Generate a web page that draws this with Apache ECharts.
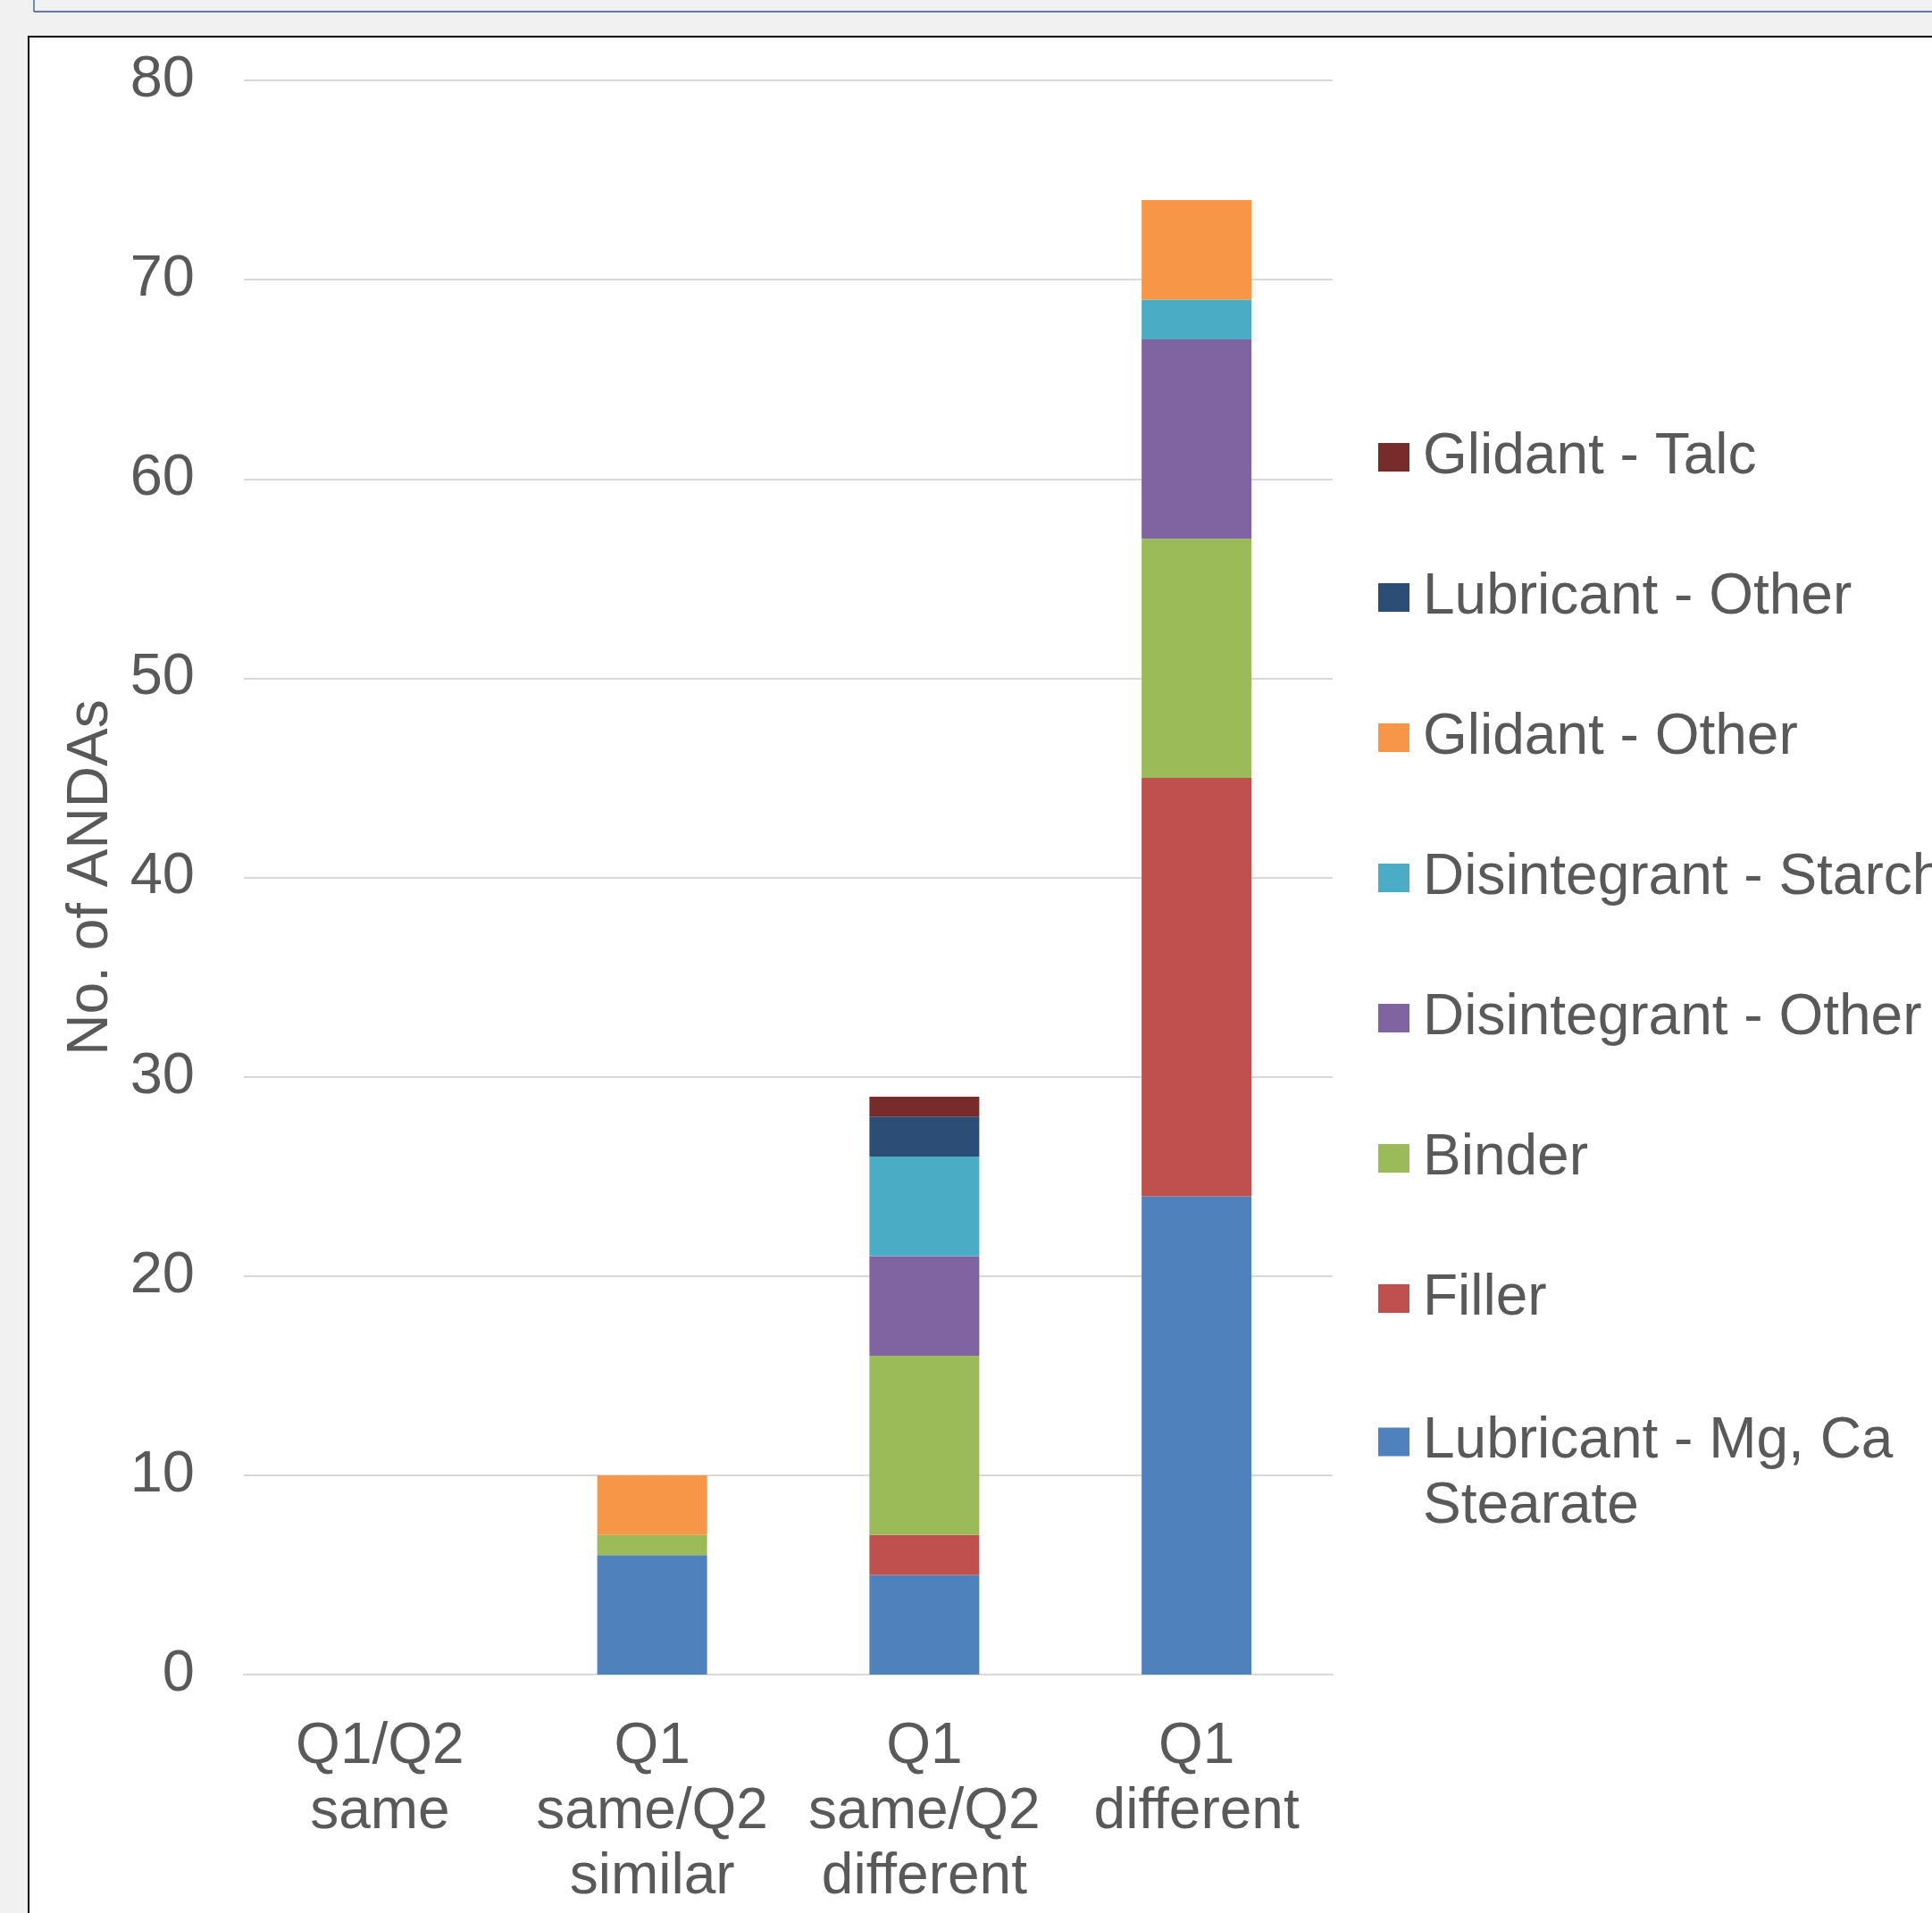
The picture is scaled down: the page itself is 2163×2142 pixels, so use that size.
<!DOCTYPE html>
<html>
<head>
<meta charset="utf-8">
<script src="https://cdn.jsdelivr.net/npm/echarts@6/dist/echarts.min.js"></script>
<style>
html,body{margin:0;padding:0;background:#F0F0F0;}
#chart{width:2163px;height:2142px;}
</style>
</head>
<body>
<div id="chart"></div>
<script>
// ---- Data ----
const categories = ['Q1/Q2\nsame', 'Q1\nsame/Q2\nsimilar', 'Q1\nsame/Q2\ndifferent', 'Q1\ndifferent'];
const yTicks = [0, 10, 20, 30, 40, 50, 60, 70, 80];
const lubricantMgCa = [0, 6, 5, 24];
const filler        = [0, 0, 2, 21];
const binder        = [0, 1, 9, 12];
const disintOther   = [0, 0, 5, 10];
const disintStarch  = [0, 0, 5, 2];
const glidantOther  = [0, 3, 0, 5];
const lubricantOther= [0, 0, 2, 0];
const glidantTalc   = [0, 0, 1, 0];

const seriesNames = ['Lubricant - Mg, Ca Stearate', 'Filler', 'Binder', 'Disintegrant - Other',
  'Disintegrant - Starch', 'Glidant - Other', 'Lubricant - Other', 'Glidant - Talc'];
const seriesData = [lubricantMgCa, filler, binder, disintOther, disintStarch, glidantOther, lubricantOther, glidantTalc];
const colors = ['#4F81BD', '#C0504D', '#9BBB59', '#8064A2', '#4BACC6', '#F79646', '#2C4D75', '#772C2A'];

const FONT = "'Liberation Sans', Arial, sans-serif";
const TXT = '#595959';

const chart = echarts.init(document.getElementById('chart'), null, {renderer: 'canvas'});

const legendText = (lh) => ({
  fontSize: 64, color: TXT, fontFamily: FONT, lineHeight: lh,
  padding: [0, 0, 0, 10]
});

const option = {
  backgroundColor: '#F0F0F0',
  animation: false,
  color: colors,
  graphic: [
    { type: 'rect', z: -10, shape: {x: 32, y: 41, width: 2300, height: 2300},
      style: {fill: '#FFFFFF', stroke: '#000000', lineWidth: 2} },
    { type: 'line', z: -10, shape: {x1: 38, y1: 0, x2: 38, y2: 13},
      style: {stroke: '#2F5597', lineWidth: 1.3} },
    { type: 'line', z: -10, shape: {x1: 38, y1: 13, x2: 2200, y2: 13},
      style: {stroke: '#2F5597', lineWidth: 1.6} }
  ],
  grid: { left: 273, right: 671, top: 90, bottom: 267, containLabel: false },
  legend: [
    {
      orient: 'vertical', left: 1543, top: 477, padding: 0,
      itemWidth: 35, itemHeight: 32, itemGap: 87, icon: 'rect', selectedMode: false,
      data: seriesNames.slice(1).reverse(),
      textStyle: legendText(70)
    },
    {
      orient: 'vertical', left: 1543, top: 1505, padding: 0,
      itemWidth: 35, itemHeight: 32, icon: 'rect', selectedMode: false,
      data: [seriesNames[0]],
      formatter: (name) => '\n' + name.replace('Ca Stearate', 'Ca\nStearate'),
      textStyle: legendText(73)
    }
  ],
  xAxis: {
    type: 'category',
    data: categories,
    axisTick: { show: false },
    axisLine: { show: true, lineStyle: { color: '#D9D9D9', width: 2 } },
    axisLabel: { fontSize: 64, color: TXT, fontFamily: FONT, lineHeight: 73, margin: 45, interval: 0 }
  },
  yAxis: {
    type: 'value',
    min: yTicks[0], max: yTicks[yTicks.length - 1], interval: 10,
    name: 'No. of ANDAs',
    nameLocation: 'middle', nameRotate: 90, nameGap: 131,
    nameTextStyle: { fontSize: 64, color: TXT, fontFamily: FONT, lineHeight: 64 },
    axisLine: { show: false },
    axisTick: { show: false },
    axisLabel: { fontSize: 65, color: TXT, fontFamily: FONT, margin: 55 },
    splitLine: { show: true, lineStyle: { color: '#D9D9D9', width: 2 } }
  },
  series: seriesNames.map((name, i) => ({
    name: name,
    type: 'bar',
    stack: 'total',
    barWidth: 123,
    data: seriesData[i],
    itemStyle: { color: colors[i], borderWidth: 0 },
    emphasis: { disabled: true }
  }))
};

chart.setOption(option);
</script>
</body>
</html>
